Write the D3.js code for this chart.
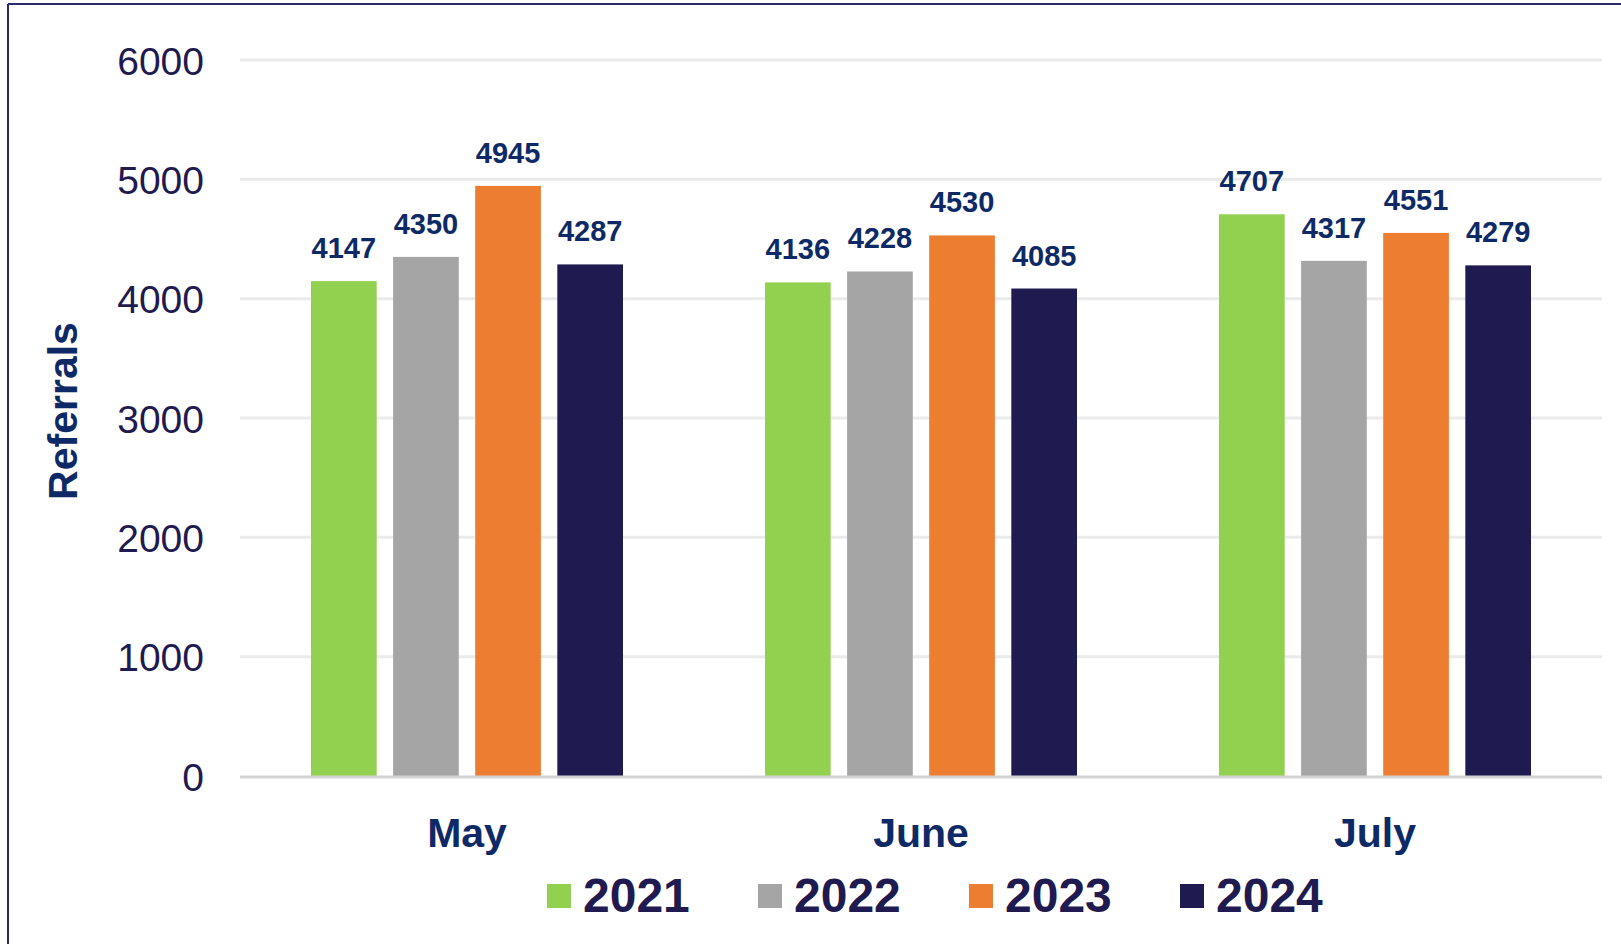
<!DOCTYPE html>
<html>
<head>
<meta charset="utf-8">
<script src="https://cdn.jsdelivr.net/npm/d3@7"></script>
<style>
body { margin: 0; background: #fff; }
svg { display: block; font-family: "Liberation Sans", Arial, sans-serif; }
</style>
</head>
<body>
<script>
var months = ["May", "June", "July"];
var years = ["2021", "2022", "2023", "2024"];
var values2021 = [4147, 4136, 4707];
var values2022 = [4350, 4228, 4317];
var values2023 = [4945, 4530, 4551];
var values2024 = [4287, 4085, 4279];
var yTicks = [0, 1000, 2000, 3000, 4000, 5000, 6000];
var colors = ["#92d050", "#a5a5a5", "#ed7d31", "#1f1a4f"];

var series = [values2021, values2022, values2023, values2024];

var w = 1621;
var h = 944;
var plotLeft = 240, plotRight = 1602, plotTop = 60, plotBottom = 776;

var svg = d3.select("body")
	.append("svg")
	.attr("width", w)
	.attr("height", h);

// frame lines (left and top only visible)
svg.append("line")
	.attr("x1", 8).attr("x2", 8).attr("y1", 4).attr("y2", h)
	.attr("stroke", "#2b2a6e").attr("stroke-width", 2);
svg.append("line")
	.attr("x1", 8).attr("x2", w).attr("y1", 4).attr("y2", 4)
	.attr("stroke", "#2b2a6e").attr("stroke-width", 2);

var x0 = d3.scaleBand()
	.domain(months)
	.range([plotLeft, plotRight]);

var gw = x0.bandwidth();
var x1 = d3.scaleBand()
	.domain(years)
	.range([gw * 71 / 454, gw * 383 / 454])
	.paddingInner(0.2);

var yScale = d3.scaleLinear()
	.domain([0, 6000])
	.range([plotBottom, plotTop]);

// gridlines
svg.append("g")
	.selectAll("line")
	.data(yTicks.filter(function(d){ return d > 0; }))
	.enter()
	.append("line")
	.attr("x1", plotLeft)
	.attr("x2", plotRight)
	.attr("y1", function(d){ return yScale(d); })
	.attr("y2", function(d){ return yScale(d); })
	.attr("stroke", "#ebebeb")
	.attr("stroke-width", 3);

// y axis labels
var yAxis = d3.axisLeft(yScale)
	.tickValues(yTicks)
	.tickFormat(d3.format("d"))
	.tickSize(0)
	.tickPadding(0);
var yg = svg.append("g")
	.attr("transform", "translate(204,0)")
	.call(yAxis);
yg.select(".domain").remove();
yg.selectAll("text")
	.attr("fill", "#1f1a4f")
	.attr("font-size", 39)
	.attr("font-family", "Liberation Sans, Arial, sans-serif")
	.attr("dy", "0.36em");

// bars
var groups = svg.append("g")
	.selectAll("g")
	.data(months)
	.enter()
	.append("g")
	.attr("transform", function(d){ return "translate(" + x0(d) + ",0)"; });

groups.selectAll("rect")
	.data(function(d, i){
		return years.map(function(y, j){ return {year: y, value: series[j][i], k: j}; });
	})
	.enter()
	.append("rect")
	.attr("x", function(d){ return x1(d.year); })
	.attr("y", function(d){ return yScale(d.value); })
	.attr("width", x1.bandwidth())
	.attr("height", function(d){ return plotBottom - yScale(d.value); })
	.attr("fill", function(d){ return colors[d.k]; });

groups.selectAll("text")
	.data(function(d, i){
		return years.map(function(y, j){ return {year: y, value: series[j][i]}; });
	})
	.enter()
	.append("text")
	.attr("x", function(d){ return x1(d.year) + x1.bandwidth() / 2; })
	.attr("y", function(d){ return yScale(d.value) - 23; })
	.attr("text-anchor", "middle")
	.attr("font-size", 29)
	.attr("font-weight", "bold")
	.attr("fill", "#0e2a66")
	.text(function(d){ return d.value; });

// baseline
svg.append("line")
	.attr("x1", plotLeft).attr("x2", plotRight)
	.attr("y1", plotBottom + 1).attr("y2", plotBottom + 1)
	.attr("stroke", "#d4d4d4")
	.attr("stroke-width", 3);

// x axis labels
var xAxis = d3.axisBottom(x0).tickSize(0).tickPadding(0);
var xg = svg.append("g")
	.attr("transform", "translate(0," + plotBottom + ")")
	.call(xAxis);
xg.select(".domain").remove();
xg.selectAll("text")
	.attr("fill", "#0e2a66")
	.attr("font-size", 41)
	.attr("font-weight", "bold")
	.attr("font-family", "Liberation Sans, Arial, sans-serif")
	.attr("dy", null)
	.attr("y", 71);

// y title
svg.append("text")
	.attr("transform", "translate(77,411) rotate(-90)")
	.attr("text-anchor", "middle")
	.attr("font-size", 41)
	.attr("font-weight", "bold")
	.attr("fill", "#0e2a66")
	.text("Referrals");

// legend
var legend = svg.append("g")
	.selectAll("g")
	.data(years)
	.enter()
	.append("g")
	.attr("transform", function(d, i){ return "translate(" + (547 + i * 211) + ",884)"; });
legend.append("rect")
	.attr("width", 24)
	.attr("height", 24)
	.attr("fill", function(d, i){ return colors[i]; });
legend.append("text")
	.attr("x", 36)
	.attr("y", 28)
	.attr("font-size", 48)
	.attr("font-weight", "bold")
	.attr("fill", "#1f1a4f")
	.text(function(d){ return d; });
</script>
</body>
</html>
